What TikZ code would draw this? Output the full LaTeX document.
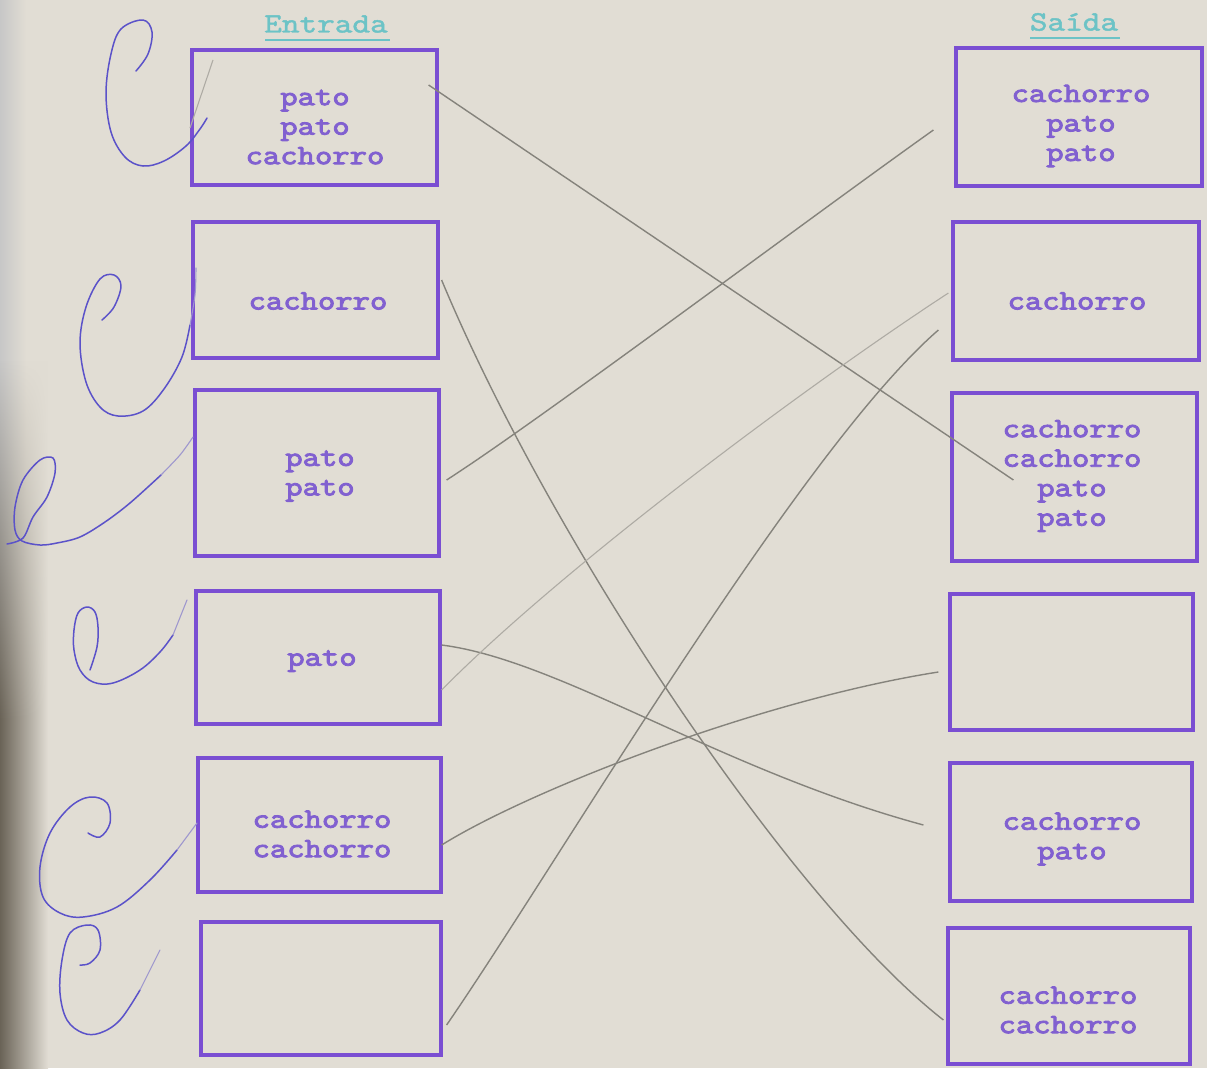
\documentclass[tikz,border=0pt]{standalone}
\usepackage{fontspec}
\newfontfamily\typew{lmmono10-regular.otf}[FakeBold=3,FakeStretch=1.18]
\newfontfamily\typehead{lmmono10-regular.otf}[FakeBold=1.5,FakeStretch=1.2]
\usetikzlibrary{calc,fadings}
\definecolor{paper}{HTML}{E1DDD4}
\definecolor{stamp}{HTML}{7A4ED2}
\definecolor{ink}{HTML}{8160D0}
\definecolor{headc}{HTML}{6CC3C6}
\definecolor{pencil}{HTML}{85837C}
\definecolor{pen}{HTML}{5B52C9}
\definecolor{shadow}{HTML}{6A6357}
\tikzset{
  box/.style={draw=stamp, line width=3.2pt, inner sep=0pt},
  word/.style={text=ink, align=center, inner sep=0pt,
    font=\typew\fontsize{28}{29.5}\selectfont},
  head/.style={text=headc, inner sep=0pt,
    font=\typehead\fontsize{28}{29}\selectfont},
  uline/.style={draw=headc, line width=2pt},
  link/.style={draw=pencil, line width=1.4pt},
  faint/.style={draw=pencil!55!paper, line width=1.1pt},
  penmark/.style={draw=pen, line width=1.5pt, line cap=round, line join=round},
  pentail/.style={draw=pen!50!paper, line width=1.1pt, line cap=round},
}
\begin{document}
\begin{tikzpicture}[x=1pt,y=-1pt]
\useasboundingbox (0,0) rectangle (1207,1068);
\fill[paper] (0,0) rectangle (1207,1068);
\shade[left color=black!22, right color=paper] (0,0) rectangle (26,1068);
\shade[left color=shadow, right color=paper, path fading=north] (0,360) rectangle (48,720);
\shade[left color=shadow, right color=paper] (0,719) rectangle (48,1068);

% headers
\node[head] (hin) at (326,24) {Entrada};
\node[head] (hout) at (1074,22) {Saída};
\draw[uline] (265,40) -- (390,40);
\draw[uline] (1030,38) -- (1120,38);

% left boxes
\node[box, minimum width=245pt, minimum height=135pt] (L1) at (314.5,117.5) {};
\node[box, minimum width=245pt, minimum height=136pt] (L2) at (315.5,290) {};
\node[box, minimum width=244pt, minimum height=166pt] (L3) at (317,473) {};
\node[box, minimum width=244pt, minimum height=133pt] (L4) at (318,657.5) {};
\node[box, minimum width=243pt, minimum height=134pt] (L5) at (319.5,825) {};
\node[box, minimum width=240pt, minimum height=133pt] (L6) at (321,988.5) {};
% right boxes
\node[box, minimum width=246pt, minimum height=138pt] (R1) at (1079,117) {};
\node[box, minimum width=246pt, minimum height=138pt] (R2) at (1076,291) {};
\node[box, minimum width=245pt, minimum height=168pt] (R3) at (1074.5,477) {};
\node[box, minimum width=243pt, minimum height=136pt] (R4) at (1071.5,662) {};
\node[box, minimum width=242pt, minimum height=138pt] (R5) at (1071,832) {};
\node[box, minimum width=242pt, minimum height=136pt] (R6) at (1069,996) {};

% texts
\node[word] (L1t) at (315,127) {pato\\pato\\cachorro};
\node[word] (L2t) at (318,301) {cachorro};
\node[word] (L3t) at (320,476) {pato\\pato};
\node[word] (L4t) at (322,661) {pato};
\node[word] (L5t) at (322,834) {cachorro\\cachorro};
\node[word] (R1t) at (1081,126) {cachorro\\pato\\pato};
\node[word] (R2t) at (1077,301) {cachorro};
\node[word] (R3t) at (1072,476) {cachorro\\cachorro\\pato\\pato};
\node[word] (R5t) at (1072,839) {cachorro\\pato};
\node[word] (R6t) at (1068,1010) {cachorro\\cachorro};

% pencil connectors
\draw[link] ([shift={(-10,-32.5)}]L1.east) -- ([shift={(63,3)}]R3.west);
\draw[link] ([shift={(2,-10)}]L2.east) .. controls (550,540) and (790,900) .. ([shift={(-3,24)}]R6.west);
\draw[link] ([shift={(6,7)}]L3.east) .. controls (540,420) and (800,225) .. ([shift={(-21,13)}]R1.west);
\draw[link] ([shift={(0,-12.5)}]L4.east) .. controls (560,660) and (720,770) .. ([shift={(-25,-7)}]R5.west);
\draw[link] ([shift={(-1,20)}]L5.east) .. controls (530,790) and (760,700) .. ([shift={(-10,10)}]R4.west);
\draw[link] ([shift={(4,36.5)}]L6.east) .. controls (560,860) and (800,450) .. ([shift={(-13,39)}]R2.west);
\draw[faint] ([shift={(-3,2)}]R2.west) .. controls (800,390) and (560,570) .. ([shift={(0,32.5)}]L4.east);

% handwritten marks
\draw[penmark] plot[smooth, tension=0.6] coordinates {(136,71) (148,54) (152,32) (143,20) (121,29) (111,54) (106,93) (111,132) (125,157) (143,166) (164,161) (186,146) (200,129) (207,118)};
\draw[faint] (190,128) -- (213,60);
\draw[penmark] plot[smooth, tension=0.6] coordinates {(102,320) (114,307) (121,286) (114,275) (100,279) (86,307) (80,343) (86,382) (100,407) (118,416) (143,411) (164,389) (182,357) (190,325)};
\draw[pentail] plot[smooth] coordinates {(190,325) (195,295) (196,268)};
\draw[penmark] plot[smooth, tension=0.55] coordinates {(7,544) (23,538) (33,517) (47,497) (55,473) (53,458) (40,460) (23,480) (15,507) (15,530) (22,541) (40,545) (57,543) (80,537) (105,522) (130,503) (161,475)};
\draw[pentail] plot[smooth] coordinates {(161,475) (180,455) (193,437)};
\draw[penmark] plot[smooth, tension=0.6] coordinates {(90,670) (97,647) (98,627) (95,612) (87,607) (78,613) (74,630) (74,650) (80,670) (93,682) (113,683) (140,670) (160,652) (173,635)};
\draw[pentail] (173,635) -- (187,600);
\draw[penmark] plot[smooth, tension=0.6] coordinates {(88,833) (100,837) (110,823) (107,803) (90,797) (70,807) (50,833) (40,867) (43,897) (60,913) (83,917) (117,907) (150,880) (177,850)};
\draw[pentail] (177,850) -- (197,823);
\draw[penmark] plot[smooth, tension=0.6] coordinates {(80,965) (90,963) (100,950) (98,930) (87,925) (70,933) (62,960) (60,993) (67,1020) (83,1033) (100,1033) (120,1020) (140,990)};
\draw[pentail] (140,990) -- (160,950);
\end{tikzpicture}
\end{document}
